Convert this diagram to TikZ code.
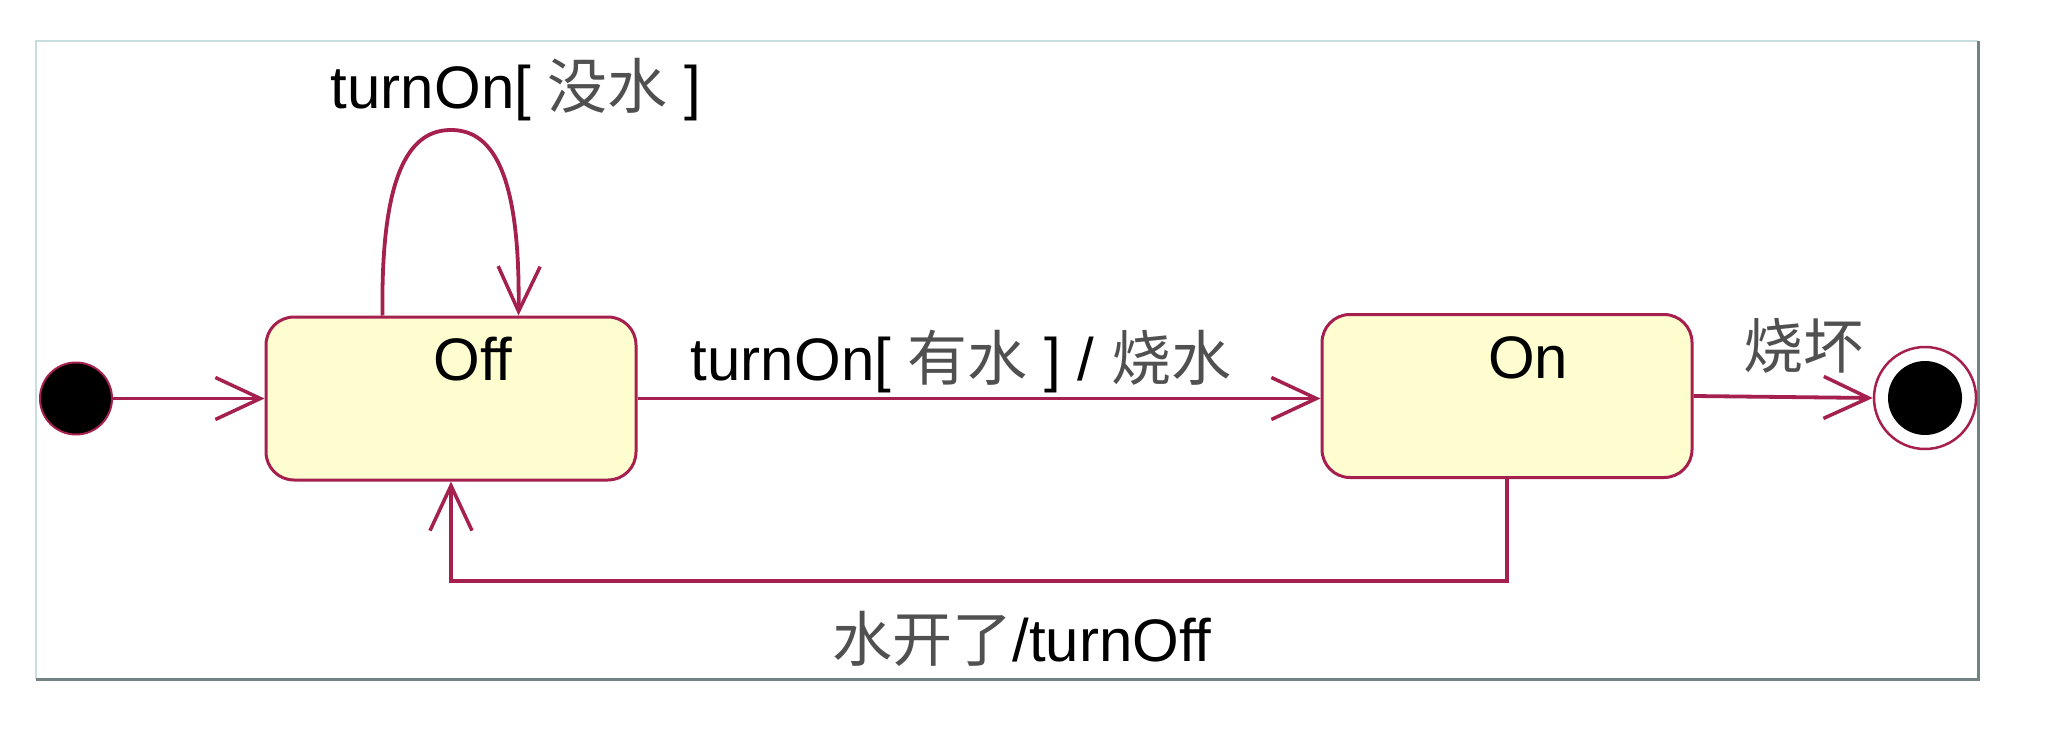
\documentclass[tikz,border=0pt]{standalone}
\usepackage{fontspec}
\setmainfont{Liberation Sans}
\newfontfamily\cjk{Noto Sans CJK SC}
\usetikzlibrary{arrows.meta}
\definecolor{edge}{RGB}{165,32,78}
\definecolor{boxfill}{RGB}{254,253,208}
\definecolor{framelight}{RGB}{200,222,222}
\definecolor{framedark}{RGB}{112,130,130}
\definecolor{cjkgray}{RGB}{80,80,80}
\newcommand{\zh}[1]{{\cjk\color{cjkgray}#1}}
\begin{document}
\begin{tikzpicture}[x=1pt,y=-1pt,
  state/.style={draw=edge, line width=3pt, fill=boxfill, rounded corners=28pt,
    minimum width=370pt, minimum height=163pt, inner sep=0pt},
  tr/.style={draw=edge, line width=3.8pt,
    -{Straight Barb[length=45pt,width=42pt,line width=3.5pt]}},
  lbl/.style={font=\fontsize{60}{70}\selectfont, inner sep=0pt, anchor=base},
  dot/.style={circle, fill=black, inner sep=0pt}
]
\useasboundingbox (0,0) rectangle (2068,744);
\fill[white] (0,0) rectangle (2068,744);
\draw[framelight, line width=2pt] (36,679) -- (36,41) -- (1978,41);
\draw[framedark, line width=3pt] (1978,41) -- (1978,679) -- (36,679);

% states
\node[state] (off) at (451,398.5) {};
\node[lbl] (offlabel) at (473,380) {Off};
\node[state] (on) at (1507,396) {};
\node[lbl] (onlabel) at (1528,378) {On};

% pseudo states
\node[dot, draw=edge, line width=2pt, minimum size=72pt] (init) at (76,398.5) {};
\node[circle, draw=edge, line width=2.5pt, fill=white, minimum size=102pt, inner sep=0pt] (final) at (1925,398) {};
\node[dot, minimum size=74pt] (finalin) at (final) {};

% transitions
\draw[tr] (init) -- (off.west);
\coordinate (looptop) at (451,130);
\draw[tr] ([xshift=118pt]off.north west) .. controls +(-2,-150) and +(-38,0) .. (looptop)
  .. controls +(38,0) and +(2,-150) .. ([xshift=254pt]off.north west);
\draw[tr] (off.east) -- (off.east -| on.west);
\draw[tr] (on.east) -- (final.west);
\draw[tr] (on.south) -- ++(0,102) -| (off.south);

% labels
\node[lbl] (looplabel) at (516,108) {turnOn[ \zh{没水} ]};
\node[lbl] (mainlabel) at (961,380) {turnOn[ \zh{有水} ] / \zh{烧水}};
\node[lbl] (finlabel) at (1803,368) {\zh{烧坏}};
\node[lbl] (backlabel) at (1022,661) {\zh{水开了}/turnOff};
\end{tikzpicture}
\end{document}
